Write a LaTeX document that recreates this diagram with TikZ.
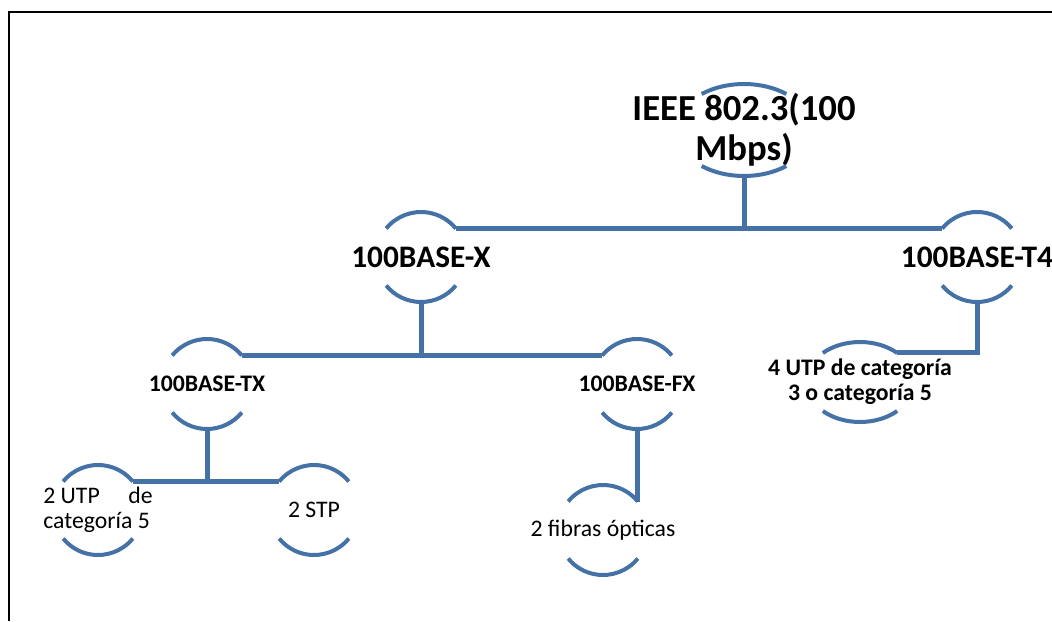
\documentclass[tikz,border=0pt]{standalone}
\usepackage{fontspec}
\setmainfont{Carlito}
\definecolor{smartblue}{RGB}{68,114,166}

\begin{document}
\begin{tikzpicture}[x=0.75pt,y=0.75pt,yscale=-1,xscale=1,
  ring/.style={draw=smartblue, line width=3pt},
  link/.style={draw=smartblue, line width=3.75pt},
  lvlone/.style={font=\bfseries\fontsize{27.5}{30}\selectfont, align=center, inner sep=0pt},
  lvltwo/.style={font=\bfseries\fontsize{23.5}{26}\selectfont, inner sep=0pt},
  lvlthree/.style={font=\bfseries\fontsize{17.8}{19}\selectfont, align=center, inner sep=0pt},
  leaf/.style={font=\fontsize{17.8}{19}\selectfont, align=center, inner sep=0pt}]
\useasboundingbox (0,0) rectangle (1052,621);

%Frame
\draw [line width=1.5pt] (9,621) -- (9,12) -- (1052,12) ;

% Text Node
\node [lvlone] (ieee) at (744,130) {IEEE 802.3(100\\Mbps)};
%Shape: Arc
\draw [ring] (ieee.center) ++(231.5:68 and 46) arc [start angle=231.5, end angle=308.5, x radius=68, y radius=46] ;
\draw [ring] (ieee.center) ++(51.5:68 and 46) arc [start angle=51.5, end angle=90, x radius=68, y radius=46] coordinate (ieee-b) arc [start angle=90, end angle=128.5, x radius=68, y radius=46] ;

% Text Node
\node [lvltwo] (basex) at (421,257) {100BASE-X};
%Shape: Arc
\draw [ring] (basex.center) ++(219.3:45) arc [start angle=219.3, end angle=320.7, radius=45] coordinate (basex-tr) ;
\draw [ring] (basex.center) ++(39.3:45) arc [start angle=39.3, end angle=90, radius=45] coordinate (basex-b) arc [start angle=90, end angle=140.7, radius=45] ;

% Text Node
\node [lvltwo] (baset4) at (977,257) {100BASE-T4};
%Shape: Arc
\draw [ring] (baset4.center) ++(219.3:45) coordinate (baset4-tl) arc [start angle=219.3, end angle=320.7, radius=45] ;
\draw [ring] (baset4.center) ++(39.3:45) arc [start angle=39.3, end angle=90, radius=45] coordinate (baset4-b) arc [start angle=90, end angle=140.7, radius=45] ;

% Text Node
\node [lvlthree] (basetx) at (207,384) {100BASE-TX};
%Shape: Arc
\draw [ring] (basetx.center) ++(219.3:45) arc [start angle=219.3, end angle=320.7, radius=45] coordinate (basetx-tr) ;
\draw [ring] (basetx.center) ++(39.3:45) arc [start angle=39.3, end angle=90, radius=45] coordinate (basetx-b) arc [start angle=90, end angle=140.7, radius=45] ;

% Text Node
\node [lvlthree] (basefx) at (637,384) {100BASE-FX};
%Shape: Arc
\draw [ring] (basefx.center) ++(219.3:45) coordinate (basefx-tl) arc [start angle=219.3, end angle=320.7, radius=45] ;
\draw [ring] (basefx.center) ++(39.3:45) arc [start angle=39.3, end angle=90, radius=45] coordinate (basefx-b) arc [start angle=90, end angle=140.7, radius=45] ;

% Text Node
\node [lvlthree] (utpb) at (860,382) {4 UTP de categoría\\3 o categoría 5};
%Shape: Arc
\draw [ring] (utpb.center) ++(226.5:54 and 40) arc [start angle=226.5, end angle=313.5, x radius=54, y radius=40] coordinate (utpb-tr) ;
\draw [ring] (utpb.center) ++(46.5:54 and 40) arc [start angle=46.5, end angle=133.5, x radius=54, y radius=40] ;

% Text Node
\node [leaf, text width=82pt, align=justify] (utpa) at (98,510) {2 UTP\hfill de\linebreak categoría 5};
%Shape: Arc
\draw [ring] (utpa.center) ++(219.3:45) arc [start angle=219.3, end angle=320.7, radius=45] coordinate (utpa-tr) ;
\draw [ring] (utpa.center) ++(39.3:45) arc [start angle=39.3, end angle=140.7, radius=45] ;

% Text Node
\node [leaf] (stp) at (314,510) {2 STP};
%Shape: Arc
\draw [ring] (stp.center) ++(219.3:45) coordinate (stp-tl) arc [start angle=219.3, end angle=320.7, radius=45] ;
\draw [ring] (stp.center) ++(39.3:45) arc [start angle=39.3, end angle=140.7, radius=45] ;

% Text Node
\node [leaf] (fibras) at (603,530) {2 fibras ópticas};
%Shape: Arc
\draw [ring] (fibras.center) ++(219.3:45) arc [start angle=219.3, end angle=320.7, radius=45] coordinate (fibras-tr) ;
\draw [ring] (fibras.center) ++(39.3:45) arc [start angle=39.3, end angle=140.7, radius=45] ;

%Straight Lines
\draw [link] (ieee-b) -- (ieee-b |- basex-tr) ;
\draw [link] (basex-tr) -- (baset4-tl) ;
\draw [link] (basex-b) -- (basex-b |- basetx-tr) ;
\draw [link] (basetx-tr) -- (basefx-tl) ;
\draw [link] (baset4-b) |- (utpb-tr) ;
\draw [link] (basetx-b) -- (basetx-b |- utpa-tr) ;
\draw [link] (utpa-tr) -- (stp-tl) ;
\draw [link] (basefx-b) -- (basefx-b |- fibras-tr) ;

\end{tikzpicture}
\end{document}
